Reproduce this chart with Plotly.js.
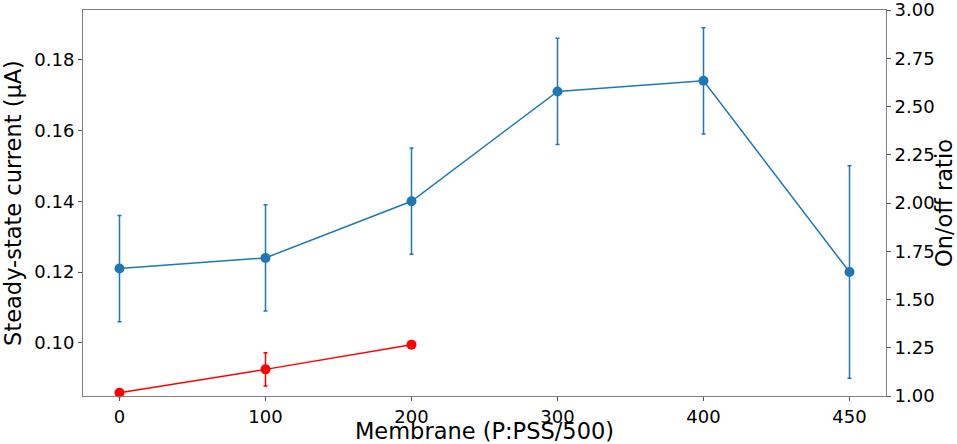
<!DOCTYPE html>
<html>
<head>
<meta charset="utf-8">
<script src="https://cdn.plot.ly/plotly-3.0.1.min.js"></script>
<style>html,body{margin:0;padding:0;background:#fff;}#chart{width:957px;height:444px;}</style>
</head>
<body>
<div id="chart"></div>
<script>
const membraneLabels = ["0", "100", "200", "300", "400", "450"];
const currentValues = [0.121, 0.124, 0.140, 0.171, 0.174, 0.120];
const currentErrors = [0.015, 0.015, 0.015, 0.015, 0.015, 0.030];
const ratioLabels = ["0", "100", "200"];
const ratioValues = [1.017, 1.138, 1.266];
const ratioErrors = [0, 0.086, 0];

const idx = membraneLabels.map((_, i) => i);
const ridx = ratioLabels.map(l => membraneLabels.indexOf(l));

const font = "DejaVu Sans, sans-serif";
const traces = [
  {
    x: idx, y: currentValues, type: "scatter", mode: "lines+markers",
    line: {color: "#1f77b4", width: 1.5},
    marker: {color: "#1f77b4", size: 10},
    error_y: {type: "data", array: currentErrors, visible: true, color: "#1f77b4", thickness: 1.5, width: 2},
    yaxis: "y", showlegend: false, cliponaxis: false
  },
  {
    x: ridx, y: ratioValues, type: "scatter", mode: "lines+markers",
    line: {color: "#ff0000", width: 1.5},
    marker: {color: "#ff0000", size: 10},
    error_y: {type: "data", array: ratioErrors, visible: true, color: "#ff0000", thickness: 1.5, width: 2},
    yaxis: "y2", showlegend: false, cliponaxis: false
  }
];

const layout = {
  width: 957, height: 444,
  margin: {l: 83, r: 71, t: 10, b: 48},
  paper_bgcolor: "#fff", plot_bgcolor: "#fff",
  font: {family: font, color: "#000", size: 18},
  xaxis: {
    range: [-0.25, 5.25], tickmode: "array", tickvals: idx, ticktext: membraneLabels,
    showgrid: false, zeroline: false, showline: true, mirror: true, linecolor: "#808080", linewidth: 1,
    ticks: "outside", ticklen: 4, tickcolor: "#555", tickfont: {size: 18, family: font},
    title: {text: "Membrane (P:PSS/500)", font: {size: 22.5, family: font}, standoff: 2}
  },
  yaxis: {
    range: [0.085, 0.194], tickmode: "array", tickvals: [0.10, 0.12, 0.14, 0.16, 0.18],
    tickformat: ".2f",
    showgrid: false, zeroline: false, showline: true, linecolor: "#808080", linewidth: 1,
    ticks: "outside", ticklen: 4, tickcolor: "#555", tickfont: {size: 18, family: font},
    title: {text: "Steady-state current (μA)", font: {size: 22.5, family: font}, standoff: 8}
  },
  yaxis2: {
    range: [1.0, 3.0], overlaying: "y", side: "right",
    tickmode: "array", tickvals: [1.0, 1.25, 1.5, 1.75, 2.0, 2.25, 2.5, 2.75, 3.0], tickformat: ".2f",
    ticklabeloverflow: "allow",
    showgrid: false, zeroline: false, showline: true, linecolor: "#808080", linewidth: 1,
    ticks: "outside", ticklen: 4, tickcolor: "#555", tickfont: {size: 18, family: font},
    title: {text: "On/off ratio", font: {size: 22.5, family: font}, standoff: 2}
  }
};

Plotly.newPlot("chart", traces, layout, {displayModeBar: false, staticPlot: true});
</script>
</body>
</html>
